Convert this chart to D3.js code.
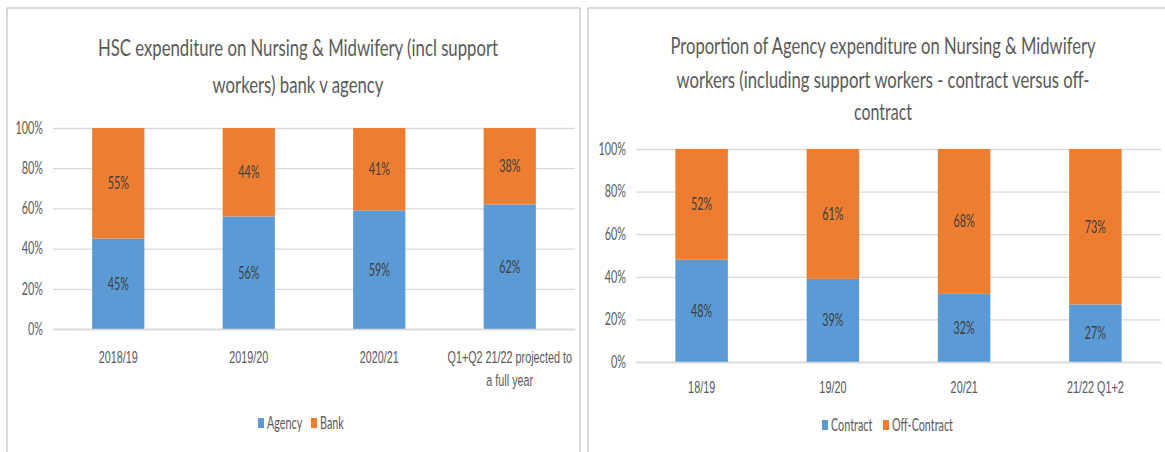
<!DOCTYPE html>
<html>
<head>
<meta charset="utf-8">
<script src="https://cdn.jsdelivr.net/npm/d3@7"></script>
<style>
  html, body { margin: 0; padding: 0; background: #fff; }
  svg { display: block; font-family: Lato, "Open Sans", sans-serif; }
</style>
</head>
<body>
<svg id="chart" width="1165" height="452"></svg>
<script>
// ---- Data -------------------------------------------------------------
const bankCategories = ["2018/19", "2019/20", "2020/21", "Q1+Q2 21/22 projected to\na full year"];
const agencyShare = [45, 56, 59, 62];
const bankShare = [55, 44, 41, 38];

const contractCategories = ["18/19", "19/20", "20/21", "21/22 Q1+2"];
const contractShare = [48, 39, 32, 27];
const offContractShare = [52, 61, 68, 73];

const yTicks = [0, 20, 40, 60, 80, 100];

const leftTitle = ["HSC expenditure on Nursing & Midwifery (incl support", "workers) bank v agency"];
const rightTitle = ["Proportion of Agency expenditure on Nursing & Midwifery",
                    "workers (including support workers - contract versus off-", "contract"];

// ---- Styling ------------------------------------------------------------
const BLUE = "#5B9BD5", ORANGE = "#ED7D31";
const TEXT = "#595959", BAR_TEXT = "#404040", GRID = "#D9D9D9";
const K = 1.55;         // vertical stretch applied to all lettering
const FS = 10.8;        // base font size for axis / label text

const svg = d3.select("#chart");

function label(g, x, y, str, anchor, size, width, color) {
  const t = g.append("text")
    .attr("transform", `translate(${x},${y}) scale(1,${K})`)
    .attr("text-anchor", anchor || "middle")
    .attr("dy", "0.35em")
    .attr("fill", color || TEXT)
    .attr("font-size", size || FS)
    .text(str);
  if (width) t.attr("textLength", width).attr("lengthAdjust", "spacingAndGlyphs");
  return t;
}

function panel(cfg) {
  const g = svg.append("g");

  // frame
  g.append("rect")
    .attr("x", cfg.frame[0]).attr("y", cfg.frame[1])
    .attr("width", cfg.frame[2]).attr("height", cfg.frame[3])
    .attr("fill", "#fff").attr("stroke", "#D0D0D0").attr("stroke-width", 1.5);

  // title
  cfg.title.forEach((line, i) => {
    label(g, cfg.titleX, cfg.titleY[i], line, "middle", 15.5, cfg.titleW[i]);
  });

  const x = d3.scaleBand().domain(cfg.categories)
    .range([cfg.plot.x0, cfg.plot.x1]).paddingInner(0.6).paddingOuter(0.3);
  const y = d3.scaleLinear().domain([0, 100]).range([cfg.plot.y1, cfg.plot.y0]);

  // gridlines + y tick labels
  const yAxis = g.append("g")
    .attr("transform", `translate(${cfg.plot.x0},0)`)
    .call(d3.axisLeft(y).tickValues(yTicks)
      .tickSize(-(cfg.plot.x1 - cfg.plot.x0)).tickPadding(10)
      .tickFormat(d => d + "%"));
  yAxis.attr("font-family", null);
  yAxis.select(".domain").remove();
  yAxis.selectAll(".tick line").attr("stroke", GRID).attr("stroke-width", 1.3);
  yAxis.selectAll(".tick text")
    .attr("fill", TEXT).attr("font-size", FS)
    .attr("transform", `scale(1,${K})`);

  // stacked bars
  const rows = cfg.categories.map((c, i) => ({ cat: c, a: cfg.series[0][i], b: cfg.series[1][i] }));
  const stack = d3.stack().keys(["a", "b"])(rows);
  const colors = [BLUE, ORANGE];
  stack.forEach((layer, li) => {
    const lg = g.append("g");
    lg.selectAll("rect").data(layer).join("rect")
      .attr("x", d => x(d.data.cat))
      .attr("width", x.bandwidth())
      .attr("y", d => y(d[1]))
      .attr("height", d => y(d[0]) - y(d[1]))
      .attr("fill", colors[li]);
    layer.forEach(d => {
      label(lg, x(d.data.cat) + x.bandwidth() / 2, (y(d[0]) + y(d[1])) / 2,
            (d[1] - d[0]) + "%", "middle", FS, null, BAR_TEXT);
    });
  });

  // category axis
  const xAxis = g.append("g")
    .attr("transform", `translate(0,${cfg.plot.y1})`)
    .call(d3.axisBottom(x).tickSize(0).tickPadding(0).tickFormat(""));
  xAxis.select(".domain").attr("stroke", GRID).attr("stroke-width", 1.3);
  xAxis.selectAll(".tick").each(function (d) {
    const tg = d3.select(this);
    d.split("\n").forEach((line, i) => {
      label(tg, 0, cfg.xLabelOffset + i * 23, line);
    });
  });

  // legend
  cfg.legend.forEach((item, i) => {
    g.append("rect")
      .attr("x", item.x).attr("y", cfg.legendY - 5)
      .attr("width", 6).attr("height", 10)
      .attr("fill", colors[i]);
    label(g, item.x + 9, cfg.legendY, item.name, "start");
  });
}

panel({
  frame: [7, 8, 573, 460],
  title: leftTitle, titleX: 298, titleY: [48, 85], titleW: [400, 171],
  categories: bankCategories,
  series: [agencyShare, bankShare],
  plot: { x0: 53, x1: 575, y0: 128, y1: 329 },
  xLabelOffset: 28,
  legend: [{ name: "Agency", x: 258 }, { name: "Bank", x: 311 }],
  legendY: 423
});

panel({
  frame: [588, 8, 590, 460],
  title: rightTitle, titleX: 883, titleY: [46, 80, 112], titleW: [425, 413, 58],
  categories: contractCategories,
  series: [contractShare, offContractShare],
  plot: { x0: 636, x1: 1161, y0: 149, y1: 362 },
  xLabelOffset: 25,
  legend: [{ name: "Contract", x: 822 }, { name: "Off-Contract", x: 883 }],
  legendY: 425
});
</script>
</body>
</html>
